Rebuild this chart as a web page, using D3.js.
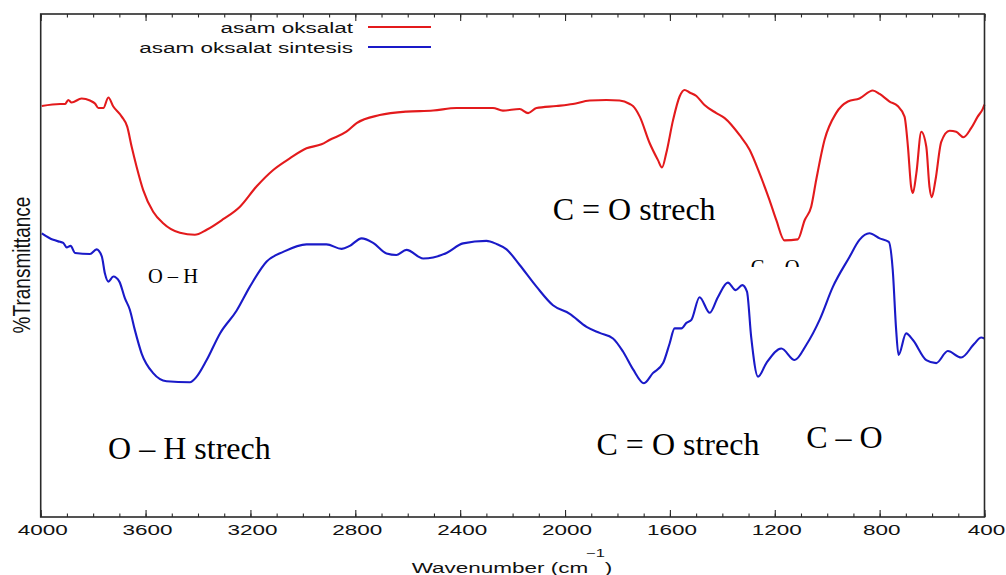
<!DOCTYPE html>
<html>
<head>
<meta charset="utf-8">
<script src="https://cdn.jsdelivr.net/npm/d3@7"></script>
<style>
  html, body { margin: 0; padding: 0; background: #fff; }
  svg { display: block; }
</style>
</head>
<body>
<svg id="chart" width="1006" height="575"></svg>
<script>
// ---- data (wavenumber cm^-1, relative transmittance) ----
const seriesNames = ["asam oksalat", "asam oksalat sintesis"];
const seriesColors = ["#e31a1c", "#1a1ac8"];

const redWave = [3996,3926,3907,3895,3882,3844,3812,3793,3780,3761,3742,3723,3691,3670,3653,3634,3609,3571,3533,3469,3412,3367,3304,3240,3177,3113,3050,2986,2929,2897,2834,2795,2707,2605,2503,2414,2275,2237,2173,2141,2109,2033,1970,1906,1842,1792,1753,1741,1715,1677,1646,1630,1614,1588,1563,1544,1525,1499,1468,1423,1391,1334,1296,1258,1220,1194,1163,1112,1086,1061,1042,1010,966,921,877,826,800,762,731,705,692,680,673,660,641,622,610,601,587,565,533,508,480,451,426,407,400];
const redT    = [81.7,82.1,82.1,82.9,82.4,83.2,82.8,82.2,81.3,81.3,83.4,81.6,79.6,77.6,73.6,69.6,65.0,60.7,58.4,56.5,56.1,57.1,59.2,61.7,65.7,69.0,71.3,73.3,74.1,75.0,76.6,78.3,79.9,80.6,80.8,81.3,81.3,80.8,81.1,80.3,81.3,81.7,82.1,82.8,82.9,82.8,82.1,81.7,79.6,74.3,71.0,69.5,72.3,78.9,83.6,84.9,84.4,83.7,81.9,80.3,79.3,75.9,73.0,68.3,63.0,59.0,55.0,55.2,59.0,61.7,67.0,75.0,80.3,82.6,83.2,84.8,84.1,82.6,81.7,79.6,73.6,65.7,64.4,68.3,76.6,73.6,65.7,63.6,67.0,74.6,76.8,76.6,75.5,77.3,79.6,81.1,82.0];

const blueWave = [3996,3952,3926,3914,3901,3886,3869,3812,3787,3767,3755,3742,3723,3700,3679,3660,3641,3615,3571,3520,3431,3405,3367,3316,3253,3202,3138,3075,2986,2910,2852,2821,2776,2732,2681,2643,2605,2541,2503,2452,2389,2300,2262,2223,2173,2109,2046,1982,1918,1868,1817,1779,1741,1699,1665,1626,1601,1582,1556,1537,1518,1487,1448,1417,1379,1349,1324,1306,1290,1264,1232,1175,1124,1080,1029,978,915,877,839,800,765,750,737,728,699,673,622,584,540,489,438,413,400];
const blueT    = [56.4,55.1,54.7,54.5,53.6,53.9,52.5,52.3,53.2,51.8,48.4,46.8,47.8,46.8,43.5,41.2,37.2,32.5,28.6,27.0,26.8,27.9,31.2,36.5,41.0,45.8,50.8,52.7,54.2,54.2,53.3,53.9,55.4,54.5,52.4,52.1,53.1,51.4,51.6,52.5,54.4,54.9,54.3,53.2,50.1,45.8,42.1,40.4,37.8,36.6,35.5,32.9,29.4,26.6,28.6,30.6,34.5,37.5,37.5,38.6,39.2,43.7,40.6,43.7,46.6,45.1,46.1,44.8,35.8,27.9,30.6,33.5,31.2,34.2,39.2,45.8,51.7,55.1,56.4,55.4,54.7,49.1,37.2,32.2,36.5,35.2,31.2,30.6,33.0,31.7,34.5,35.7,35.5];

const majorTicks = [4000,3600,3200,2800,2400,2000,1600,1200,800,400];
const minorTicks = d3.range(4000, 399, -100);
const xTitle = "Wavenumber (cm";
const xTitleSup = "\u22121";
const yTitle = "%Transmittance";

const annotations = [
  {text: "C = O strech", x: 2047, y: 59.0, size: 32},
  {text: "O \u2013 H",   x: 3591, y: 46.5, size: 20.5},
  {text: "O \u2013 H strech", x: 3743, y: 11.5, size: 32},
  {text: "C = O strech", x: 1880, y: 12.3, size: 32},
  {text: "C \u2013 O",   x: 1080, y: 13.7, size: 32}
];
const hiddenNote = {text: "C \u2013 O", x: 1292, y: 48.3, size: 20.5, visibleTo: 49.7};

// ---- layout ----
const svg = d3.select("#chart");
const L = 40.7, R = 984.5, T = 14, B = 517;
const x = d3.scaleLinear().domain([4000, 400]).range([L, R]);
const y = d3.scaleLinear().domain([0, 100]).range([B, T]);
const gtext = "Liberation Sans, Arial, Helvetica, sans-serif";
const serif = "Liberation Serif, Times New Roman, serif";
const axisCol = "#2a2a2a";

// curves
const line = d3.line().x(d => x(d[0])).y(d => y(d[1])).curve(d3.curveMonotoneX);
const redData = redWave.map((w, i) => [w, redT[i]]);
const blueData = blueWave.map((w, i) => [w, blueT[i]]);
[redData, blueData].forEach((data, i) => {
  svg.append("path").datum(data)
    .attr("fill", "none").attr("stroke", seriesColors[i])
    .attr("stroke-width", 2.1).attr("stroke-linejoin", "round")
    .attr("d", line);
});

// axes (ticks inward)
const gBot = svg.append("g").attr("transform", `translate(0,${B})`);
gBot.call(d3.axisBottom(x).tickValues(minorTicks).tickSize(-3.5).tickFormat(""));
gBot.append("g").call(d3.axisBottom(x).tickValues(majorTicks).tickSize(-7).tickFormat(""));
const gTop = svg.append("g").attr("transform", `translate(0,${T})`);
gTop.call(d3.axisTop(x).tickValues(minorTicks).tickSize(-3.5).tickFormat(""));
gTop.append("g").call(d3.axisTop(x).tickValues(majorTicks).tickSize(-7).tickFormat(""));
svg.selectAll(".domain").remove();
svg.selectAll(".tick line").attr("stroke", axisCol).attr("stroke-width", 1.1);

// frame
svg.append("rect").attr("x", L).attr("y", T).attr("width", R - L).attr("height", B - T)
  .attr("fill", "none").attr("stroke", axisCol).attr("stroke-width", 1.6);

// tick labels
svg.append("g").selectAll("text").data(majorTicks).join("text")
  .attr("transform", d => `translate(${x(d) + 2},535) scale(1.5,1)`)
  .attr("text-anchor", "middle")
  .attr("font-family", gtext).attr("font-size", 15).attr("fill", "#111")
  .text(d => d);

// x title
const xt = svg.append("text")
  .attr("transform", "translate(512,573) scale(1.5,1)")
  .attr("text-anchor", "middle")
  .attr("font-family", gtext).attr("font-size", 15).attr("fill", "#111");
xt.append("tspan").text(xTitle);
xt.append("tspan").attr("dy", -16).attr("dx", -1.5).attr("font-size", 11).text(xTitleSup);
xt.append("tspan").attr("dy", 16).text(")");

// y title
svg.append("text")
  .attr("transform", "translate(29.5,265) rotate(-90) scale(1.19,1.5)")
  .attr("text-anchor", "middle")
  .attr("font-family", gtext).attr("font-size", 16).attr("fill", "#111")
  .text(yTitle);

// legend
seriesNames.forEach((name, i) => {
  const by = 33 + i * 20;
  svg.append("text")
    .attr("transform", `translate(353,${by}) scale(1.5,1)`)
    .attr("text-anchor", "end")
    .attr("font-family", gtext).attr("font-size", 15).attr("fill", "#111")
    .text(name);
  svg.append("line").attr("x1", 368).attr("x2", 431)
    .attr("y1", by - 6).attr("y2", by - 6)
    .attr("stroke", seriesColors[i]).attr("stroke-width", 2);
});

// annotations
svg.append("g").selectAll("text").data(annotations).join("text")
  .attr("x", d => x(d.x)).attr("y", d => y(d.y))
  .attr("font-family", serif).attr("font-size", d => d.size).attr("fill", "#000")
  .text(d => d.text);

// partially hidden label
svg.append("clipPath").attr("id", "hideclip").append("rect")
  .attr("x", 0).attr("y", 0).attr("width", 1006).attr("height", y(hiddenNote.visibleTo));
svg.append("text").attr("clip-path", "url(#hideclip)")
  .attr("x", x(hiddenNote.x)).attr("y", y(hiddenNote.y))
  .attr("font-family", serif).attr("font-size", hiddenNote.size).attr("fill", "#000")
  .text(hiddenNote.text);
</script>
</body>
</html>
